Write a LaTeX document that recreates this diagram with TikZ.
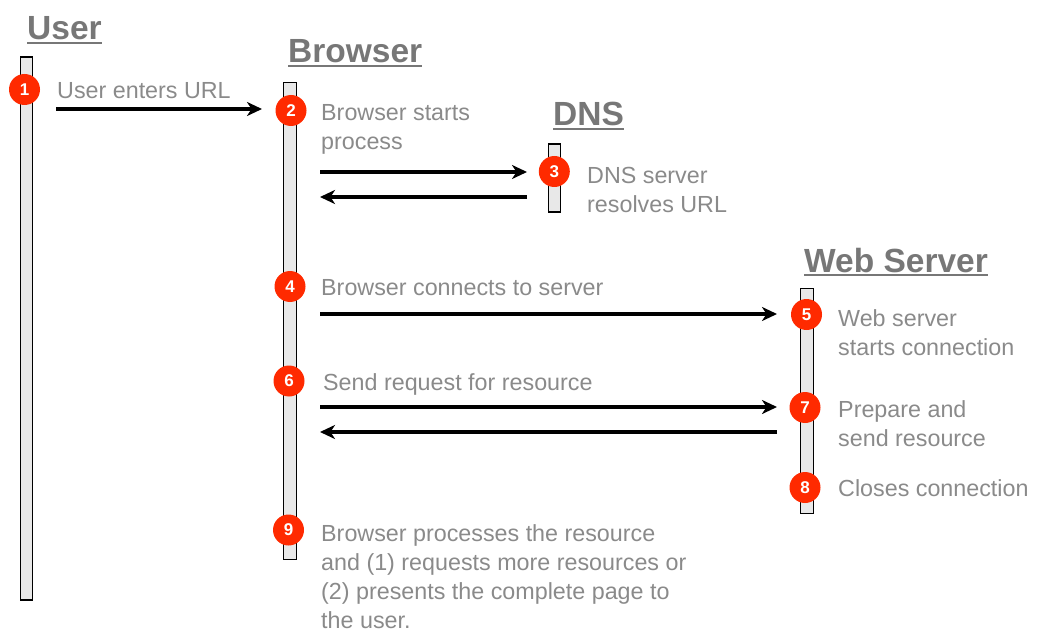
\documentclass[tikz,border=0pt]{standalone}
\usepackage{fontspec}
\setmainfont{Liberation Sans}
\usetikzlibrary{arrows.meta}
\definecolor{headgray}{HTML}{777777}
\definecolor{txtgray}{HTML}{8A8A8A}
\definecolor{stepred}{HTML}{FF2A00}
\definecolor{barfill}{HTML}{E8E8E8}
\tikzset{
  heading/.style={inner sep=0pt, anchor=base west, text=headgray, font=\fontsize{33.5}{36}\selectfont\bfseries},
  ul/.style={draw=headgray, line width=2pt},
  body/.style={inner sep=0pt, anchor=base west, text=txtgray, align=left, font=\fontsize{23.3}{29}\selectfont},
  life/.style={draw=black, fill=barfill, line width=1.2pt, minimum width=12pt, inner sep=0pt},
  badge/.style={circle, fill=stepred, text=white, minimum size=31pt, inner sep=0pt, font=\fontsize{17}{17}\selectfont\bfseries},
  msg/.style={line width=3.2pt, -{Stealth[length=15pt, width=14pt, inset=4.5pt]}}
}
\begin{document}
\begin{tikzpicture}[x=1pt, y=-1pt]
\useasboundingbox (0,0) rectangle (1043,636);
% headings
\node[heading] (hUser) at (27,40) {User};
\node[heading] (hBrowser) at (288,63) {Browser};
\node[heading] (hDNS) at (553,126) {DNS};
\node[heading] (hWeb) at (804,272) {Web Server};
\foreach \h in {hUser,hBrowser,hDNS,hWeb}
  \draw[ul] ([yshift=-3pt]\h.base west) -- ([yshift=-3pt]\h.base east);
% lifelines
\node[life, minimum height=543pt] (lUser) at (26.5,328.5) {};
\node[life, minimum height=477pt, minimum width=13pt] (lBrowser) at (290.3,321.3) {};
\node[life, minimum height=68pt] (lDNS) at (554.3,178) {};
\node[life, minimum height=225pt, minimum width=12.6pt] (lWeb) at (807,400.6) {};
% message end points
\coordinate (a1s) at (56,109);   \coordinate (a1e) at (262,109);
\coordinate (a2s) at (320,172);  \coordinate (a2e) at (527,172);
\coordinate (a3s) at (527,197);  \coordinate (a3e) at (320,197);
\coordinate (a4s) at (320,314);  \coordinate (a4e) at (777,314);
\coordinate (a5s) at (320,407);  \coordinate (a5e) at (777,407);
\coordinate (a6s) at (777,432);  \coordinate (a6e) at (320,432);
\draw[msg] (a1s) -- (a1e);
\draw[msg] (a2s) -- (a2e);
\draw[msg] (a3s) -- (a3e);
\draw[msg] (a4s) -- (a4e);
\draw[msg] (a5s) -- (a5e);
\draw[msg] (a6s) -- (a6e);
% badges
\node[badge] (b1) at (24.5,89.5) {1};
\node[badge] (b2) at (291,110.5) {2};
\node[badge] (b3) at (554.3,171.5) {3};
\node[badge] (b4) at (290,286.5) {4};
\node[badge] (b5) at (806.5,314.5) {5};
\node[badge] (b6) at (289,381) {6};
\node[badge] (b7) at (805,407.5) {7};
\node[badge] (b8) at (805,487.5) {8};
\node[badge] (b9) at (288.5,530) {9};
% texts (multi-line nodes: base = baseline of last line)
\node[body] (t1) at (57,99) {User enters URL};
\node[body] (t2) at (321,150) {Browser starts\\process};
\node[body] (t3) at (587,212.5) {DNS server\\resolves URL};
\node[body] (t4) at (321,295) {Browser connects to server};
\node[body] (t5) at (838,355) {Web server\\starts connection};
\node[body] (t6) at (323,390) {Send request for resource};
\node[body] (t7) at (838,446) {Prepare and\\send resource};
\node[body] (t8) at (838,496) {Closes connection};
\node[body] (t9) at (321,628) {Browser processes the resource\\and (1) requests more resources or\\(2) presents the complete page to\\the user.};
\end{tikzpicture}
\end{document}
